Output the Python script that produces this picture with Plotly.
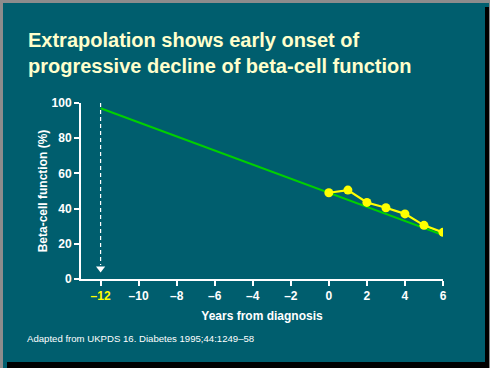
import plotly.graph_objects as go

# ---- data ----
obs_years = [0, 1, 2, 3, 4, 5, 6]
obs_beta = [49, 50.5, 43.5, 40.5, 37, 30.5, 26.5]
fit_years = [-12, 6]
fit_beta = [97, 25]
onset_year = -12
tick_vals = [-12, -10, -8, -6, -4, -2, 0, 2, 4, 6]
tick_text = ['<span style="color:#FFFF00">–12</span>', '–10', '–8', '–6', '–4', '–2', '0', '2', '4', '6']
y_ticks = [0, 20, 40, 60, 80, 100]

W, H = 490, 368
ML, MR, MT, MB = 81, 47, 103, 89
PW, PH = W - ML - MR, H - MT - MB
TEAL = "#005E6E"
FONT = "Arial, Liberation Sans, sans-serif"


def px(p):
    return (p - ML) / PW


def py(p):
    return (H - MB - p) / PH


fig = go.Figure()

# dashed onset line + arrowhead
fig.add_trace(go.Scatter(x=[onset_year, onset_year], y=[100, 8], mode="lines",
                         line=dict(color="white", width=1.2, dash="4px,3px"),
                         hoverinfo="skip", showlegend=False))
fig.add_trace(go.Scatter(x=[onset_year], y=[6], mode="markers",
                         marker=dict(symbol="triangle-down", size=8, color="white"),
                         hoverinfo="skip", showlegend=False))
# observed data line
fig.add_trace(go.Scatter(x=obs_years, y=obs_beta, mode="lines",
                         line=dict(color="#FFFF00", width=2.2),
                         hoverinfo="skip", showlegend=False))
# extrapolation
fig.add_trace(go.Scatter(x=fit_years, y=fit_beta, mode="lines",
                         line=dict(color="#00D000", width=2),
                         hoverinfo="skip", showlegend=False))
# observed markers
fig.add_trace(go.Scatter(x=obs_years, y=obs_beta, mode="markers",
                         marker=dict(color="#FFFF00", size=9),
                         hoverinfo="skip", showlegend=False))

shapes = [
    # grey frame top/left
    dict(type="rect", xref="paper", yref="paper", x0=px(0), x1=px(W), y0=py(0), y1=py(3),
         fillcolor="#8C8C8C", line_width=0, layer="below"),
    dict(type="rect", xref="paper", yref="paper", x0=px(0), x1=px(3), y0=py(0), y1=py(H),
         fillcolor="#8C8C8C", line_width=0, layer="below"),
    # black shadow right/bottom
    dict(type="rect", xref="paper", yref="paper", x0=px(485), x1=px(489), y0=py(7), y1=py(H),
         fillcolor="black", line_width=0, layer="below"),
    dict(type="rect", xref="paper", yref="paper", x0=px(7), x1=px(489), y0=py(362), y1=py(H),
         fillcolor="black", line_width=0, layer="below"),
    dict(type="rect", xref="paper", yref="paper", x0=px(489), x1=px(W), y0=py(0), y1=py(H),
         fillcolor="#8C8C8C", line_width=0, layer="below"),
]

annotations = [
    dict(text="<b>Extrapolation shows early onset of<br>progressive decline of beta-cell function</b>",
         xref="paper", yref="paper", x=px(26), y=py(27), xanchor="left", yanchor="top",
         align="left", showarrow=False,
         font=dict(family=FONT, size=20, color="#FFFFCC")),
    dict(text="Adapted from UKPDS 16. Diabetes 1995;44:1249–58",
         xref="paper", yref="paper", x=px(25), y=py(338), xanchor="left", yanchor="middle",
         showarrow=False, font=dict(family=FONT, size=9.6, color="white")),
]

fig.update_layout(
    width=W, height=H,
    margin=dict(l=ML, r=MR, t=MT, b=MB, pad=0),
    paper_bgcolor=TEAL, plot_bgcolor="rgba(0,0,0,0)",
    showlegend=False,
    shapes=shapes,
    annotations=annotations,
    xaxis=dict(range=[-13.03, 6], tickvals=tick_vals, ticktext=tick_text,
               showgrid=False, zeroline=False, showline=True, linecolor="white", linewidth=2,
               ticks="outside", ticklen=5, tickwidth=2, tickcolor="white",
               tickfont=dict(family=FONT, size=12, color="white", weight="bold"),
               title=dict(text="<b>Years from diagnosis</b>", standoff=9,
                          font=dict(family=FONT, size=12, color="white"))),
    yaxis=dict(range=[0, 100], tickvals=y_ticks,
               showgrid=False, zeroline=False, showline=True, linecolor="white", linewidth=2,
               ticks="outside", ticklen=5, tickwidth=2, tickcolor="white",
               tickfont=dict(family=FONT, size=12, color="white", weight="bold"),
               title=dict(text="<b>Beta-cell function (%)</b>", standoff=1,
                          font=dict(family=FONT, size=12, color="white"))),
)

fig.write_html("out.html", config={"displayModeBar": False},
               post_script="document.body.style.margin='0';")
